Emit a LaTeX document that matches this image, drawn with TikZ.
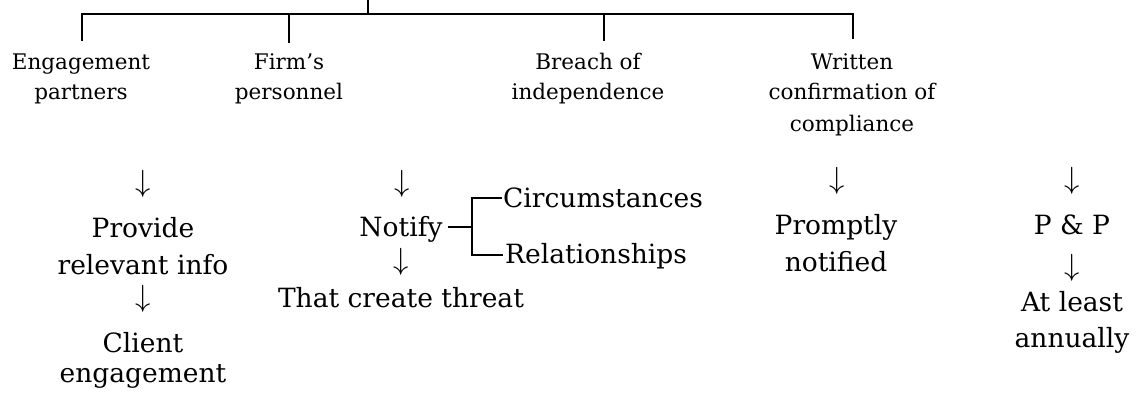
\documentclass[tikz,border=0pt]{standalone}
\usepackage{graphicx}
\usepackage{fontspec}
\setmainfont{DejaVu Serif}
\newcommand{\dnarrow}{\scalebox{1.23}{$\downarrow$}}
\begin{document}
\begin{tikzpicture}[x=1pt,y=-1pt,
  heading/.style={font=\fontsize{21.5}{31}\selectfont, inner sep=0pt, anchor=base},
  body/.style={font=\fontsize{26.5}{37}\selectfont, inner sep=0pt, anchor=base},
  down/.style={font=\fontsize{31}{31}\selectfont, inner sep=0pt},
  rule/.style={line width=1.6pt, line cap=rect}]
\useasboundingbox[fill=white] (0,0) rectangle (1136,395);

% headings
\node[heading] (eng1) at (81,70) {Engagement};
\node[heading] (eng2) at (81,100) {partners};
\node[heading] (firm1) at (289,70) {Firm’s};
\node[heading] (firm2) at (289,100) {personnel};
\node[heading] (br1) at (588,70) {Breach of};
\node[heading] (br2) at (588,100) {independence};
\node[heading] (wr1) at (852,70) {Written};
\node[heading] (wr2) at (852,100) {confirmation of};
\node[heading] (wr3) at (852,132) {compliance};

% top rule with its drops
\coordinate (top) at (368,0);
\coordinate (hub) at (368,14);
\coordinate (d1) at (82,40);
\coordinate (d2) at (289,42);
\coordinate (d3) at (604,40);
\coordinate (d4) at (853,38);
\draw[rule] (d1) -- (d1|-hub) -- (d4|-hub) -- (d4);
\draw[rule] (d2) -- (d2|-hub);
\draw[rule] (d3) -- (d3|-hub);
\draw[rule] (top) -- (hub);

% first column
\node[down] (a1) at (143,184) {\dnarrow};
\node[body] (prov1) at (143,238) {Provide};
\node[body] (prov2) at (143,275) {relevant info};
\node[down] (a2) at (143,299) {\dnarrow};
\node[body] (cli1) at (143,353) {Client};
\node[body] (cli2) at (143,383) {engagement};

% second column
\node[down] (a3) at (402,184) {\dnarrow};
\node[body] (notify) at (401,237) {Notify};
\node[down] (a4) at (401,262) {\dnarrow};
\node[body] (threat) at (401,308) {That create threat};
\node[body, anchor=base west] (circ) at (503,208) {Circumstances};
\node[body, anchor=base west] (rel) at (505,264) {Relationships};
\coordinate (fork) at (472,227);
\draw[line width=1.6pt] ([xshift=5pt]notify.east|-fork) -- (fork);
\draw[line width=1.6pt] ([xshift=-1pt,yshift=10pt]circ.base west) -| (fork)
  |- ([xshift=-2pt,yshift=9pt]rel.base west);

% third column
\node[down] (a5) at (837,181) {\dnarrow};
\node[body] (prompt1) at (836,235) {Promptly};
\node[body] (prompt2) at (836,272) {notified};

% fourth column
\node[down] (a6) at (1072,181) {\dnarrow};
\node[body] (pp) at (1072,235) {P \& P};
\node[down] (a7) at (1072,268) {\dnarrow};
\node[body] (al1) at (1072,312) {At least};
\node[body] (al2) at (1072,348) {annually};
\end{tikzpicture}
\end{document}
